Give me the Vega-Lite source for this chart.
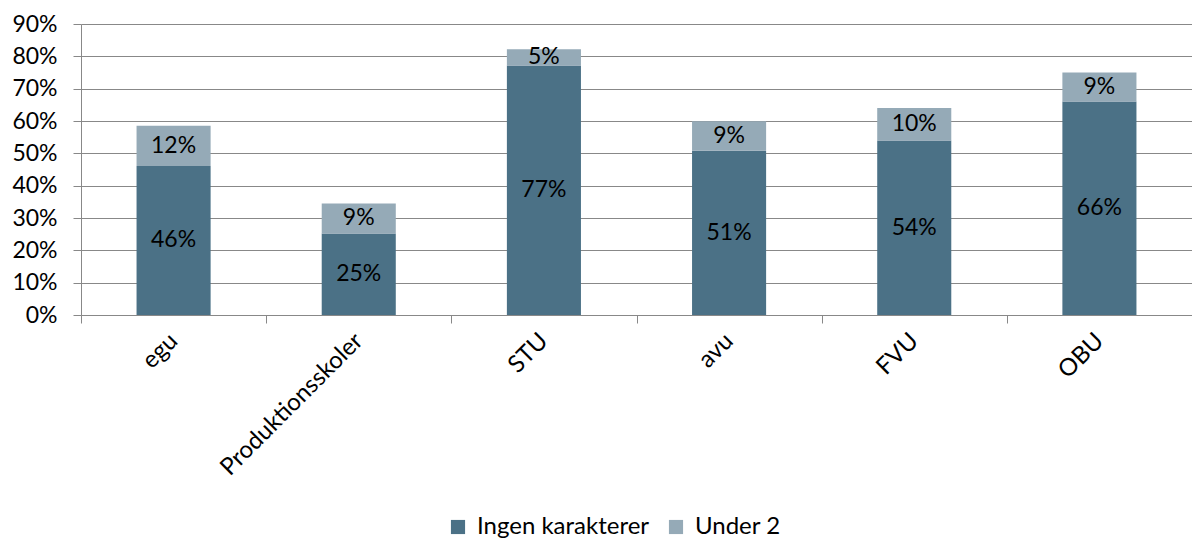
{
  "$schema": "https://vega.github.io/schema/vega-lite/v6.json",
  "width": 1111,
  "height": 291,
  "autosize": {"type": "none"},
  "padding": {"left": 81, "top": 24, "right": 0, "bottom": 226},
  "background": "white",
  "config": {
    "view": {"stroke": null},
    "font": "Lato",
    "axis": {"labelFont": "Lato", "labelColor": "black", "labelOverlap": false, "labelLimit": 0}
  },
  "data": {
    "values": [
      {"cat": "egu", "serie": "Ingen karakterer", "v": 0.461},
      {"cat": "egu", "serie": "Under 2", "v": 0.124},
      {"cat": "Produktionsskoler", "serie": "Ingen karakterer", "v": 0.252},
      {"cat": "Produktionsskoler", "serie": "Under 2", "v": 0.093},
      {"cat": "STU", "serie": "Ingen karakterer", "v": 0.772},
      {"cat": "STU", "serie": "Under 2", "v": 0.050},
      {"cat": "avu", "serie": "Ingen karakterer", "v": 0.508},
      {"cat": "avu", "serie": "Under 2", "v": 0.091},
      {"cat": "FVU", "serie": "Ingen karakterer", "v": 0.540},
      {"cat": "FVU", "serie": "Under 2", "v": 0.100},
      {"cat": "OBU", "serie": "Ingen karakterer", "v": 0.660},
      {"cat": "OBU", "serie": "Under 2", "v": 0.090}
    ]
  },
  "transform": [
    {"stack": "v", "groupby": ["cat"], "sort": [{"field": "serie", "order": "ascending"}], "as": ["v0", "v1"]},
    {"calculate": "(datum.v0 + datum.v1) / 2", "as": "mid"}
  ],
  "encoding": {
    "x": {
      "field": "cat", "type": "nominal",
      "sort": ["egu", "Produktionsskoler", "STU", "avu", "FVU", "OBU"],
      "scale": {"paddingInner": 0, "paddingOuter": 0},
      "axis": {
        "title": null, "labelAngle": -45, "labelAlign": "right", "labelBaseline": "middle",
        "labelFontSize": 24, "labelLimit": 0,
        "tickBand": "extent", "tickSize": 8, "tickColor": "#888888", "domainColor": "#888888",
        "labelPadding": 14, "grid": false
      }
    }
  },
  "layer": [
    {
      "mark": {"type": "bar", "width": {"band": 0.4}},
      "encoding": {
        "y": {
          "field": "v0", "type": "quantitative",
          "scale": {"domain": [0, 0.9], "nice": false},
          "axis": {
            "title": null, "format": ".0%", "values": [0, 0.1, 0.2, 0.3, 0.4, 0.5, 0.6, 0.7, 0.8, 0.9],
            "labelFontSize": 23, "labelOverlap": false,
            "grid": true, "gridColor": "#888888", "gridOpacity": 1, "gridWidth": 1,
            "tickSize": 8, "tickColor": "#888888", "domainColor": "#888888",
            "labelPadding": 16
          }
        },
        "y2": {"field": "v1"},
        "color": {
          "field": "serie", "type": "nominal",
          "scale": {"domain": ["Ingen karakterer", "Under 2"], "range": ["#4B7186", "#95AAB7"]},
          "legend": {
            "title": null, "orient": "none", "direction": "horizontal",
            "legendX": 365, "legendY": 491,
            "symbolType": "square", "symbolSize": 200, "symbolStrokeWidth": 0, "symbolOpacity": 1,
            "labelFont": "Lato", "labelFontSize": 24, "labelColor": "black", "labelOffset": 7,
            "labelLimit": 0, "columnPadding": 14
          }
        }
      }
    },
    {
      "mark": {"type": "text", "fontSize": 23, "font": "Lato", "color": "black"},
      "encoding": {
        "y": {
          "field": "mid", "type": "quantitative",
          "scale": {"domain": [0, 0.9], "nice": false},
          "axis": {
            "title": null, "format": ".0%", "values": [0, 0.1, 0.2, 0.3, 0.4, 0.5, 0.6, 0.7, 0.8, 0.9],
            "labelFontSize": 23, "labelOverlap": false,
            "grid": true, "gridColor": "#888888", "gridOpacity": 1, "gridWidth": 1,
            "tickSize": 8, "tickColor": "#888888", "domainColor": "#888888",
            "labelPadding": 16
          }
        },
        "text": {"field": "v", "type": "quantitative", "format": ".0%"}
      }
    }
  ]
}
